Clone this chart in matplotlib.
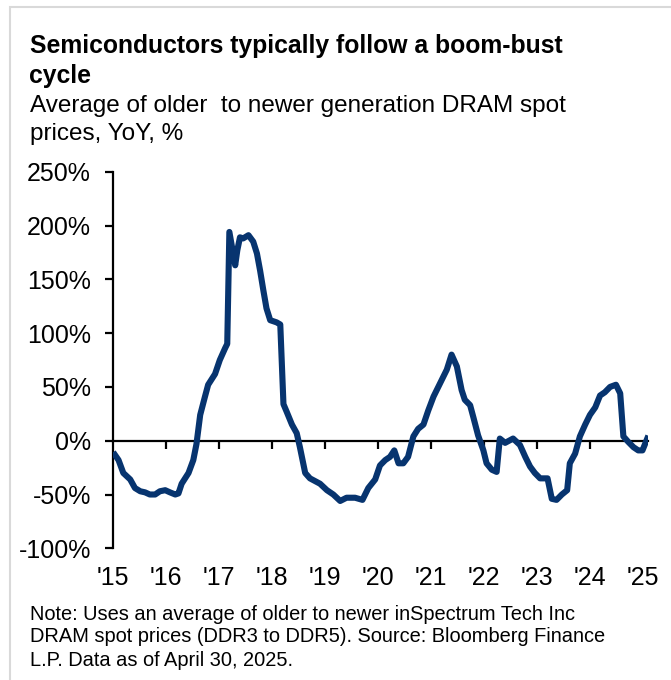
import numpy as np
import matplotlib.pyplot as plt
from matplotlib.patches import Rectangle

plt.rcParams['font.family'] = ['Liberation Sans', 'DejaVu Sans']

# decimal year, YoY %
dates = [2015.04, 2015.11, 2015.20, 2015.33, 2015.42, 2015.52, 2015.61, 2015.70, 2015.80, 2015.89,
         2015.99, 2016.08, 2016.18, 2016.24, 2016.30, 2016.43, 2016.52, 2016.58, 2016.65, 2016.74,
         2016.80, 2016.93, 2017.02, 2017.12, 2017.16, 2017.20, 2017.31, 2017.35, 2017.40, 2017.46,
         2017.56, 2017.65, 2017.72, 2017.78, 2017.84, 2017.90, 2017.97, 2018.09, 2018.16, 2018.22,
         2018.28, 2018.38, 2018.47, 2018.53, 2018.63, 2018.72, 2018.91, 2019.04, 2019.16, 2019.29,
         2019.41, 2019.57, 2019.71, 2019.82, 2019.95, 2020.04, 2020.14, 2020.23, 2020.31, 2020.39,
         2020.48, 2020.57, 2020.67, 2020.76, 2020.86, 2020.95, 2021.05, 2021.17, 2021.30, 2021.39,
         2021.49, 2021.58, 2021.64, 2021.74, 2021.80, 2021.89, 2021.99, 2022.05, 2022.15, 2022.24,
         2022.30, 2022.40, 2022.55, 2022.68, 2022.78, 2022.87, 2022.96, 2023.06, 2023.20, 2023.28,
         2023.37, 2023.47, 2023.57, 2023.62, 2023.72, 2023.81, 2023.91, 2024.00, 2024.10, 2024.19,
         2024.28, 2024.38, 2024.49, 2024.57, 2024.63, 2024.72, 2024.82, 2024.91, 2024.99, 2025.08]
yoy = [-13, -18, -30, -36, -44, -47, -48, -50, -50, -47,
       -46, -48, -50, -49, -40, -30, -18, -3, 24, 41,
       52, 62, 75, 86, 90, 194, 163, 177, 189, 188,
       191, 185, 174, 158, 140, 123, 112, 110, 108, 34,
       27, 15, 7, -6, -30, -35, -40, -46, -50, -56,
       -53, -53, -55, -44, -36, -23, -18, -15, -9, -21,
       -21, -15, 4, 11, 15, 28, 41, 53, 66, 80,
       69, 47, 38, 33, 22, 5, -9, -21, -27, -29,
       2, -2, 2, -4, -15, -24, -30, -35, -35, -54,
       -55, -50, -46, -21, -12, 4, 15, 24, 31, 42,
       45, 50, 52, 44, 4, -1, -6, -9, -9, 2]

years = list(range(2015, 2026))
year_labels = ["'%02d" % (y % 100) for y in years]
y_ticks = [-100, -50, 0, 50, 100, 150, 200, 250]

W, H = 671, 680
fig = plt.figure(figsize=(W / 100, H / 100), dpi=100)
fig.add_artist(Rectangle((10 / W, -0.1), 1.2, 1.1 - 7 / H, transform=fig.transFigure,
                         fill=False, edgecolor='#d9d9d9', linewidth=1.5))

ax = fig.add_axes([112.7 / W, 1 - 548.3 / H, 535.6 / W, (548.3 - 171.7) / H])
ax.plot(dates, yoy, color='#07346f', linewidth=4.4, solid_joinstyle='round', zorder=3)
ax.set_xlim(2015, 2025.1)
ax.set_ylim(-100, 250)

for s in ['top', 'right', 'bottom']:
    ax.spines[s].set_visible(False)
ax.spines['left'].set_linewidth(1.6)
ax.set_yticks(y_ticks)
ax.set_yticklabels(['%d%%' % v for v in y_ticks])
ax.tick_params(axis='y', direction='out', length=5.8, width=1.6, pad=10, labelsize=18)

ax.set_xticks(years)
ax.set_xticklabels(year_labels)
ax.tick_params(axis='x', length=0, pad=13, labelsize=18)

# zero line with year tick marks
zax = ax.secondary_xaxis(100 / 350)
zax.spines['bottom'].set_linewidth(1.6)
zax.set_xticks(years[1:-1])
zax.set_xticklabels([])
zax.tick_params(direction='out', length=5.5, width=1.6)

fig.text(29.5 / W, 1 - 53 / H, 'Semiconductors typically follow a boom-bust',
         fontsize=17.8, fontweight='bold', va='baseline')
fig.text(29.5 / W, 1 - 83 / H, 'cycle', fontsize=17.8, fontweight='bold', va='baseline')
fig.text(29.5 / W, 1 - 112 / H, 'Average of older  to newer generation DRAM spot',
         fontsize=17.5, va='baseline')
fig.text(29.5 / W, 1 - 140 / H, 'prices, YoY, %', fontsize=17.5, va='baseline')

notes = ['Note: Uses an average of older to newer inSpectrum Tech Inc',
         'DRAM spot prices (DDR3 to DDR5). Source: Bloomberg Finance',
         'L.P. Data as of April 30, 2025.']
for i, line in enumerate(notes):
    fig.text(29.5 / W, 1 - (619.5 + 23 * i) / H, line, fontsize=14.4, va='baseline')

plt.savefig('out.png', dpi=100)
